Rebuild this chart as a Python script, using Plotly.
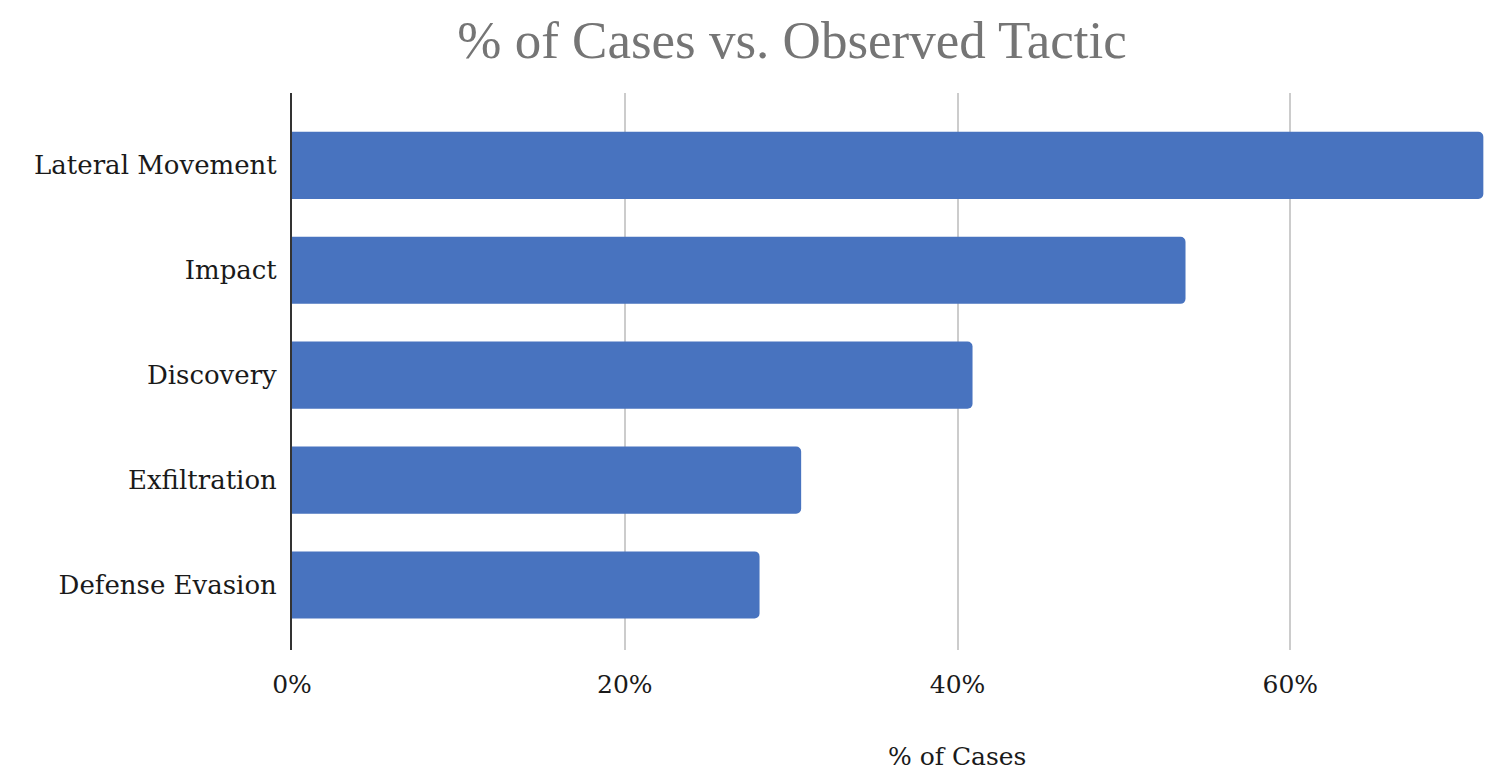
import plotly.graph_objects as go

categories = ["Defense Evasion", "Exfiltration", "Discovery", "Impact", "Lateral Movement"]
values = [0.281, 0.306, 0.409, 0.537, 0.716]
x_ticks = [0, 0.2, 0.4, 0.6]
x_tick_labels = ["0%", "20%", "40%", "60%"]
x_axis_title = "% of Cases"

FONT = "'DejaVu Serif', Georgia, serif"
TITLE_FONT = "'Liberation Serif', Georgia, serif"

fig = go.Figure(go.Bar(
    y=categories, x=values, orientation="h",
    marker=dict(color="#4873BF", line=dict(width=0)),
))

fig.update_layout(
    width=1500, height=782,
    margin=dict(l=292, r=10, t=93, b=132),
    paper_bgcolor="white", plot_bgcolor="white",
    bargap=0.36,
    barcornerradius=5,
    showlegend=False,
    font=dict(family=FONT, size=26, color="#1a1a1a"),
    title=dict(text="% of Cases vs. Observed Tactic", x=792/1500, xanchor="center",
               y=1 - 39/782, yanchor="middle",
               font=dict(family=TITLE_FONT, size=53, color="#757575")),
    xaxis=dict(range=[0, 0.72], tickvals=x_ticks, ticktext=x_tick_labels,
               showgrid=True, gridcolor="#cccccc", gridwidth=2,
               zeroline=False, showline=False, ticks="",
               ticklabelstandoff=17,
               tickfont=dict(family=FONT, size=25, color="#1a1a1a")),
    yaxis=dict(range=[-0.62, 4.69], showgrid=False, zeroline=False,
               showline=True, linecolor="#333333", linewidth=2, ticks="",
               ticklabelstandoff=8,
               tickfont=dict(family=FONT, size=26, color="#1a1a1a")),
    annotations=[dict(text=x_axis_title, xref="paper", yref="paper",
                      x=0.555, y=-0.192, xanchor="center", yanchor="middle",
                      showarrow=False,
                      font=dict(family=FONT, size=25, color="#1a1a1a"))],
)

fig.write_html("out.html")
